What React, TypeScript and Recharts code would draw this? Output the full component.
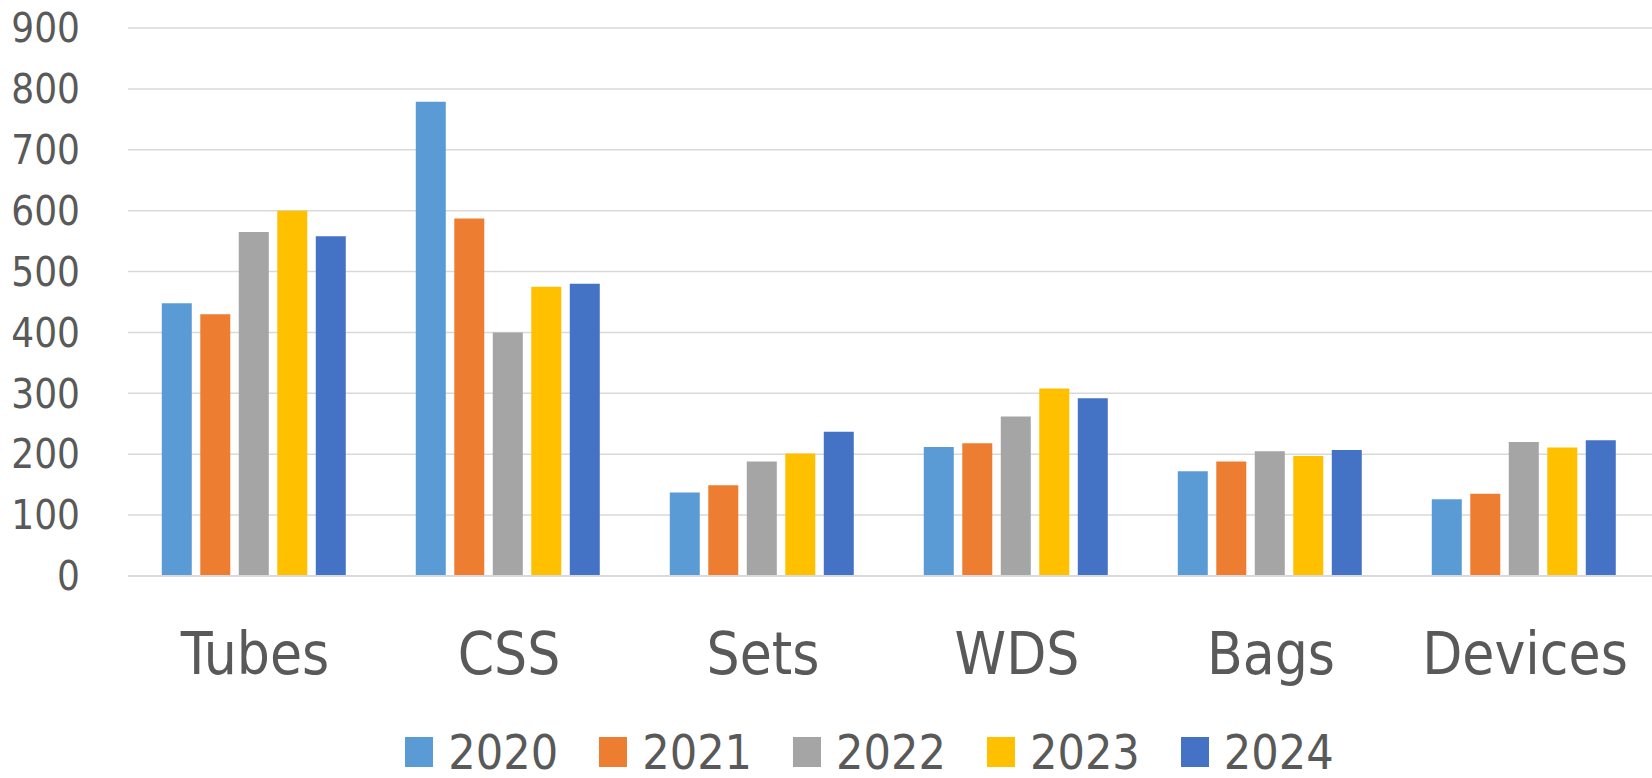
import React from 'react';
import {
  BarChart,
  Bar,
  XAxis,
  YAxis,
  CartesianGrid,
  Legend,
} from 'recharts';

const categories = ['Tubes', 'CSS', 'Sets', 'WDS', 'Bags', 'Devices'];
const years = ['2020', '2021', '2022', '2023', '2024'];

const values2020 = [448, 779, 137, 212, 172, 126];
const values2021 = [430, 587, 149, 218, 188, 135];
const values2022 = [565, 400, 188, 262, 205, 220];
const values2023 = [600, 475, 201, 308, 197, 211];
const values2024 = [558, 480, 237, 292, 207, 223];

const yTicks = [0, 100, 200, 300, 400, 500, 600, 700, 800, 900];

const COLORS = ['#5B9BD5', '#ED7D31', '#A5A5A5', '#FFC000', '#4472C4'];

const FONT =
  '"Liberation Sans Narrow", "DejaVu Sans Condensed", "Open Sans", sans-serif';
const TEXT = '#595959';
const GRID = '#D9D9D9';

const seriesValues = [values2020, values2021, values2022, values2023, values2024];

const data = categories.map((name, i) => {
  const row: Record<string, string | number> = { name };
  years.forEach((y, j) => {
    row[y] = seriesValues[j][i];
  });
  return row;
});

const renderLegend = (props: any) => {
  const items = props.payload || [];
  return (
    <div
      style={{
        display: 'flex',
        justifyContent: 'center',
        alignItems: 'center',
        height: 52,
        paddingLeft: 128,
        fontFamily: FONT,
      }}
    >
      {items.map((item: any) => (
        <div
          key={item.value}
          style={{ display: 'flex', alignItems: 'center', marginRight: 41 }}
        >
          <span
            style={{
              display: 'inline-block',
              width: 28,
              height: 30,
              background: item.color,
              marginRight: 15,
            }}
          />
          <span style={{ fontSize: 48, lineHeight: '48px', color: TEXT }}>
            {item.value}
          </span>
        </div>
      ))}
    </div>
  );
};

const App: React.FC = () => {
  return (
    <div
      style={{
        position: 'absolute',
        top: 0,
        left: 0,
        width: 1652,
        height: 778,
        background: '#fff',
      }}
    >
      <BarChart
        width={1652}
        height={778}
        data={data}
        margin={{ top: 28, right: 0, left: 0, bottom: 20 }}
        barCategoryGap='13.3%'
        barGap={8.5}
      >
        <CartesianGrid vertical={false} stroke={GRID} strokeWidth={1.5} />
        <XAxis
          dataKey='name'
          height={130}
          axisLine={{ stroke: GRID, strokeWidth: 2 }}
          tickLine={false}
          tickMargin={51}
          tick={{ fontSize: 58, fill: TEXT, fontFamily: FONT }}
        />
        <YAxis
          width={128}
          domain={[0, 900]}
          ticks={yTicks}
          axisLine={false}
          tickLine={false}
          tickMargin={42}
          tick={{ fontSize: 40, fill: TEXT, fontFamily: FONT }}
        />
        <Legend
          content={renderLegend}
          wrapperStyle={{ left: 0, width: 1652, top: 726, height: 52 }}
        />
        {years.map((y, i) => (
          <Bar
            key={y}
            dataKey={y}
            name={y}
            fill={COLORS[i]}
            isAnimationActive={false}
          />
        ))}
      </BarChart>
    </div>
  );
};

export default App;
